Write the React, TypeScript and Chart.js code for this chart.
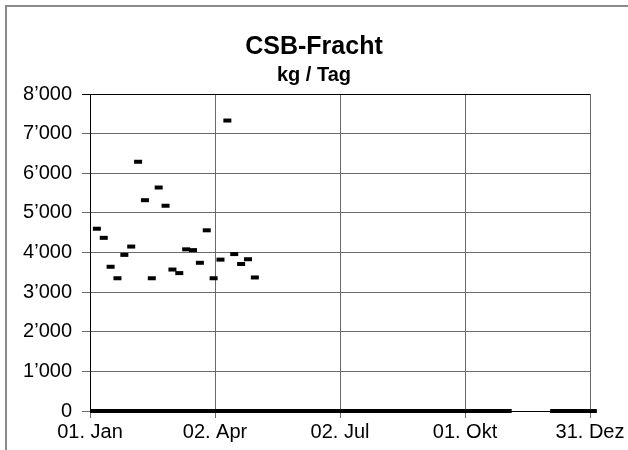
import React, { useEffect, useRef } from "react";
import { Chart, registerables } from "chart.js";

Chart.register(...registerables);

// Measurement days (day index counted from 01. Jan) and CSB-Fracht values in kg/Tag
const sampleDays = [5, 10, 15, 20, 25, 30, 35, 40, 45, 50, 55, 60, 65, 70, 75, 80, 85, 90, 95, 100, 105, 110, 115, 120];
const loadValues = [4600, 4370, 3640, 3350, 3940, 4150, 6290, 5320, 3350, 5640, 5180, 3570, 3480, 4080, 4060, 3740, 4560, 3350, 3820, 7330, 3960, 3710, 3830, 3370];

// Periods in which the plotted value is 0 (start day, end day)
const zeroPeriodStarts = [0, 335];
const zeroPeriodEnds = [307, 369];

// Axis ticks
const xTickDays = [0, 91, 182, 273, 364];
const xTickLabels = ["01. Jan", "02. Apr", "02. Jul", "01. Okt", "31. Dez"];
const yTickValues = [0, 1000, 2000, 3000, 4000, 5000, 6000, 7000, 8000];

const titleText = "CSB-Fracht";
const subtitleText = "kg / Tag";

const FONT = "'Liberation Sans', Arial, sans-serif";

function fmtThousands(v: number): string {
  const s = Math.round(v).toString();
  return s.replace(/\B(?=(\d{3})+(?!\d))/g, "\u2019");
}

// Draws the two centred title lines over the whole chart box
const titlePlugin = {
  id: "centredTitles",
  afterDraw(chart: any) {
    const ctx = chart.ctx;
    const cx = chart.width / 2;
    ctx.save();
    ctx.fillStyle = "#000000";
    ctx.textAlign = "center";
    ctx.textBaseline = "middle";
    ctx.font = `bold 25px ${FONT}`;
    ctx.fillText(titleText, cx, 47);
    ctx.font = `bold 20px ${FONT}`;
    ctx.fillText(subtitleText, cx, 75);
    ctx.restore();
  },
};

export default function App() {
  const canvasRef = useRef<HTMLCanvasElement | null>(null);

  useEffect(() => {
    const canvas = canvasRef.current;
    if (!canvas) return;

    const points = sampleDays.map((d, i) => ({ x: d, y: loadValues[i] }));
    const zeroLine: { x: number; y: number | null }[] = [];
    zeroPeriodStarts.forEach((s, i) => {
      if (i > 0) zeroLine.push({ x: (zeroPeriodEnds[i - 1] + s) / 2, y: null });
      zeroLine.push({ x: s, y: 0 });
      zeroLine.push({ x: zeroPeriodEnds[i], y: 0 });
    });

    const chart = new Chart(canvas, {
      type: "scatter",
      data: {
        datasets: [
          {
            label: "Null",
            data: zeroLine as any,
            showLine: true,
            spanGaps: false,
            borderColor: "#000000",
            borderWidth: 4,
            borderCapStyle: "butt",
            pointRadius: 0,
            pointHoverRadius: 0,
            clip: false as any,
          } as any,
          {
            label: "CSB-Fracht",
            data: points,
            showLine: false,
            pointStyle: "line",
            pointRadius: 4,
            pointHoverRadius: 4,
            pointBorderWidth: 4,
            borderColor: "#000000",
            backgroundColor: "#000000",
            clip: false as any,
          } as any,
        ],
      },
      plugins: [titlePlugin],
      options: {
        responsive: false,
        animation: false,
        events: [],
        layout: { padding: { left: 0, right: 38, top: 94, bottom: 0 } },
        plugins: {
          legend: { display: false },
          tooltip: { enabled: false },
          title: { display: false },
          subtitle: { display: false },
        },
        scales: {
          x: {
            type: "linear",
            min: 0,
            max: 364,
            afterBuildTicks: (scale: any) => {
              scale.ticks = xTickDays.map((v) => ({ value: v }));
            },
            afterFit: (scale: any) => {
              scale.height = 39;
            },
            ticks: {
              color: "#000000",
              font: { family: FONT, size: 20 },
              padding: 2,
              maxRotation: 0,
              autoSkip: false,
              callback: (value: any) => {
                const idx = xTickDays.indexOf(Number(value));
                return idx >= 0 ? xTickLabels[idx] : "";
              },
            },
            grid: {
              color: "#6a6a6a",
              lineWidth: 1,
              tickLength: 7,
              drawOnChartArea: true,
            },
            border: { color: "#000000", width: 1 },
          },
          y: {
            type: "linear",
            min: 0,
            max: 8000,
            afterBuildTicks: (scale: any) => {
              scale.ticks = yTickValues.map((v) => ({ value: v }));
            },
            afterFit: (scale: any) => {
              scale.width = 90;
            },
            ticks: {
              color: "#000000",
              font: { family: FONT, size: 20 },
              padding: 10,
              callback: (value: any) => fmtThousands(Number(value)),
            },
            grid: {
              color: (ctx: any) => (ctx.tick && ctx.tick.value === 8000 ? "#000000" : "#6a6a6a"),
              lineWidth: 1,
              tickLength: 8,
            },
            border: { color: "#000000", width: 1 },
          },
        },
      },
    });

    return () => {
      chart.destroy();
    };
  }, []);

  return (
    <div
      style={{
        position: "fixed",
        left: 0,
        top: 0,
        width: 628,
        height: 450,
        background: "#ffffff",
        overflow: "hidden",
      }}
    >
      <div
        style={{
          position: "absolute",
          left: 5,
          top: 5,
          width: 700,
          height: 520,
          border: "2px solid #8a8a8a",
        }}
      />
      <canvas
        ref={canvasRef}
        width={628}
        height={450}
        style={{ position: "absolute", left: 0, top: 0, width: 628, height: 450 }}
      />
    </div>
  );
}
